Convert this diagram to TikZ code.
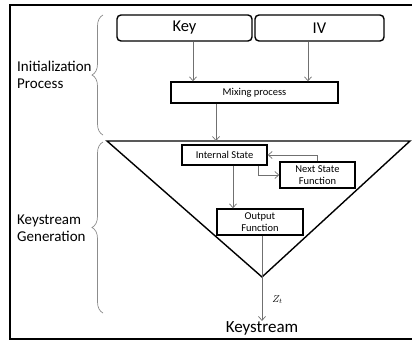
\documentclass[tikz,border=0pt]{standalone}
\usepackage{fontspec}
\setmainfont{Carlito}
\usepackage{tikz}
\usetikzlibrary{arrows.meta, positioning, calc, decorations.pathreplacing}
\definecolor{LineGray}{HTML}{707070}
\definecolor{BraceGray}{HTML}{8C8C8C}
\tikzset{
  % Box styles
  inputbox/.style={rectangle, rounded corners=4pt, draw, line width=1.4pt, minimum height=26, inner sep=0pt, font=\fontsize{16.5}{18}\selectfont},
  procbox/.style={rectangle, draw, line width=1.4pt, inner sep=0pt, align=center, font=\fontsize{10.5}{12.5}\selectfont},
  % Text styles
  sidelabel/.style={anchor=west, align=left, inner sep=0pt, font=\fontsize{15}{16.5}\selectfont},
  % Arrow styles
  arrow/.style={-{Straight Barb[length=4pt, width=7pt]}, LineGray, line width=0.7pt},
  bracket/.style={decorate, decoration={brace, amplitude=11pt, mirror}, BraceGray, line width=0.7pt}
}
\begin{document}
\begin{tikzpicture}[x=1pt, y=-1pt]
  \useasboundingbox (0,0) rectangle (412,343);

  % Outer frame
  \draw[line width=1.2pt] (412,5) -- (10,5) -- (10,339) -- (412,339);

  % Initialization
  \node[inputbox, minimum width=135] (key) at (184.5,28) {Key};
  \node[inputbox, minimum width=129] (iv) at (319.5,28) {IV};
  \node[procbox, minimum width=167, minimum height=21] (mix) at (254.5,92.5) {Mixing process};

  \draw[arrow] ([xshift=8.5]key.south) -- ([xshift=8.5]key.south |- mix.north);
  \draw[arrow] ([xshift=-11.5]iv.south) -- ([xshift=-11.5]iv.south |- mix.north);

  % Generator
  \draw[line width=1.4pt] (107,141) -- (410,141) -- (262,277) -- cycle;
  \coordinate (tritop) at (216,141);
  \coordinate (apex) at (262,277);

  \node[procbox, minimum width=85, minimum height=20] (int) at (224.5,155) {Internal State};
  \node[procbox, minimum width=75, minimum height=26] (nxt) at (317.5,175) {Next State\\Function};
  \node[procbox, minimum width=86, minimum height=26] (out) at (260,222) {Output\\Function};
  \node[font=\fontsize{17}{19}\selectfont, inner sep=0pt] (kst) at (262,328) {Keystream};

  \draw[arrow] (mix.south -| tritop) -- (tritop);
  \draw[arrow] ([xshift=33.5]int.south) |- (nxt.west);
  \draw[arrow] (nxt.north) |- (int.east);
  \draw[arrow] ([xshift=8.5]int.south) -- ([xshift=8.5]int.south |- out.north);
  \draw[arrow] ([xshift=2]out.south) -- ([xshift=2]out.south |- kst.north)
    node[pos=0.75, right=10pt, inner sep=0pt, text=black, font=\fontsize{10}{12}\selectfont] {$Z_t$};

  % Side labels
  \node[sidelabel] (init) at (17,75) {Initialization\\Process};
  \node[sidelabel] (gen) at (17,228) {Keystream\\Generation};
  \draw[bracket] (103,15) -- (103,135);
  \draw[bracket] (103,142) -- (103,313);
\end{tikzpicture}
\end{document}
